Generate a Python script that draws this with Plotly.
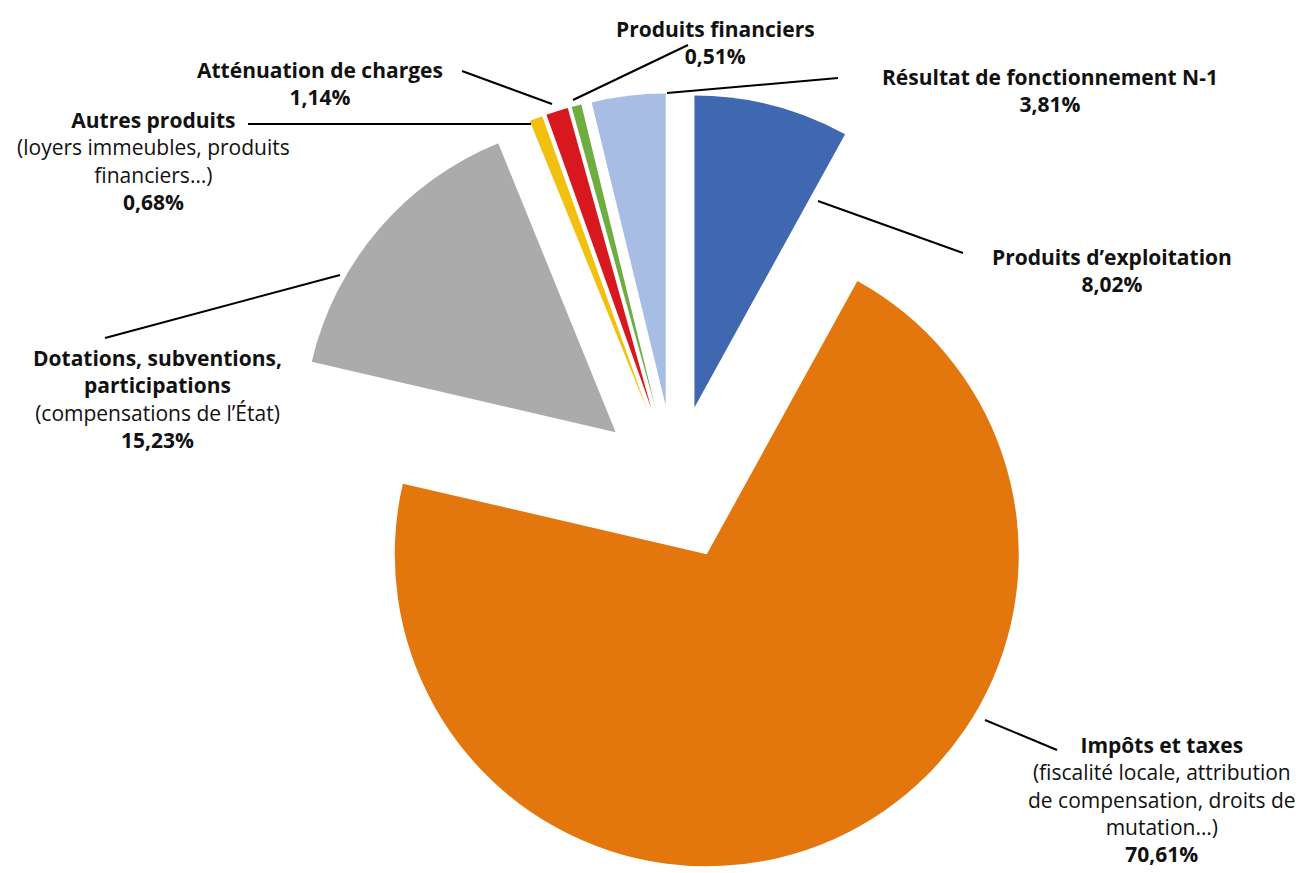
"""Exploded pie: répartition des recettes de fonctionnement."""

import plotly.graph_objects as go

W, H = 1314, 873

# slices, clockwise from 12 o'clock
categories = [
    "Produits d’exploitation",
    "Impôts et taxes",
    "Dotations, subventions, participations",
    "Autres produits",
    "Atténuation de charges",
    "Produits financiers",
    "Résultat de fonctionnement N-1",
]
shares = [8.02, 70.61, 15.23, 0.68, 1.14, 0.51, 3.81]
colors = ["#4068B0", "#E3770E", "#ABABAB", "#F2C10F", "#D7191F", "#6EAD3F", "#A8BDE3"]

# label blocks: bold title lines, plain detail lines, value
titles = [
    ["Produits d’exploitation"],
    ["Impôts et taxes"],
    ["Dotations, subventions,", "participations"],
    ["Autres produits"],
    ["Atténuation de charges"],
    ["Produits financiers"],
    ["Résultat de fonctionnement N-1"],
]
details = [
    [],
    ["(fiscalité locale, attribution", "de compensation, droits de", "mutation…)"],
    ["(compensations de l’État)"],
    ["(loyers immeubles, produits", "financiers…)"],
    [],
    [],
    [],
]

# label block centres and leader lines, in pixels from top-left
label_pos = [(1112, 270), (1162, 799), (157, 399), (153, 161), (320, 84), (715, 42), (1050, 91)]
leaders = [
    ((818, 201), (963, 253)),
    ((985, 720), (1057, 750)),
    ((340, 275), (105, 338)),
    ((531, 124), (248, 124)),
    ((552, 104), (462, 71)),
    ((573, 100), (688, 45)),
    ((667, 93), (838, 78)),
]

FONT = "Open Sans"
FONT_SIZE = 21


def px(x, y):
    return x / W, 1 - y / H


def fmt(v):
    return f"{v:.2f}".replace(".", ",") + "%"


fig = go.Figure(go.Pie(
    labels=categories,
    values=shares,
    marker={"colors": colors, "line": {"width": 0}},
    sort=False,
    direction="clockwise",
    rotation=0,
    pull=0.25,
    textinfo="none",
    hoverinfo="label+percent",
    domain={"x": [275 / W, 1075 / W], "y": [0, 780 / H]},
    showlegend=False,
))

for i, v in enumerate(shares):
    lines = [f"<b>{t}</b>" for t in titles[i]] + details[i] + [f"<b>{fmt(v)}</b>"]
    x, y = px(*label_pos[i])
    fig.add_annotation(
        x=x, y=y, xref="paper", yref="paper",
        text="<br>".join(lines), showarrow=False,
        xanchor="center", yanchor="middle", align="center",
        font={"family": FONT, "size": FONT_SIZE, "color": "#111111"},
    )
    (x0, y0), (x1, y1) = leaders[i]
    a, b = px(x0, y0)
    c, d = px(x1, y1)
    fig.add_shape(type="line", xref="paper", yref="paper", x0=a, y0=b, x1=c, y1=d,
                  line={"color": "#000000", "width": 2})

fig.update_layout(
    width=W, height=H,
    margin={"l": 0, "r": 0, "t": 0, "b": 0},
    paper_bgcolor="white",
    plot_bgcolor="white",
)

fig.write_html(
    "out.html",
    config={"displayModeBar": False},
    post_script="document.body.style.margin='0';document.body.style.overflow='hidden';",
)
